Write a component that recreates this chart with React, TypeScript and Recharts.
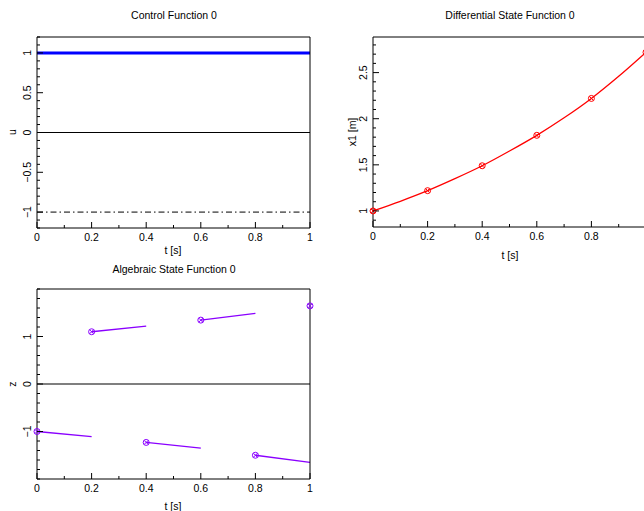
import React from 'react';
import { ComposedChart, Line, Scatter, XAxis, YAxis, ReferenceLine } from 'recharts';

const FONT = '"Liberation Sans", Arial, sans-serif';

// time grids
const tNodes = [0, 0.2, 0.4, 0.6, 0.8, 1.0];
const tFine = [0, 0.1, 0.2, 0.3, 0.4, 0.5, 0.6, 0.7, 0.8, 0.9, 1.0];

// control u
const uNodes = [1, 1, 1, 1, 1, 1];
const uBoundTimes = [0, 1];
const uLowerBound = [-1, -1];

// differential state x1
const x1Fine = [1.0, 1.105, 1.22, 1.35, 1.49, 1.65, 1.82, 2.01, 2.22, 2.46, 2.72];
const x1Nodes = [1.0, 1.22, 1.49, 1.82, 2.22, 2.72];

// algebraic state z, one piece per interval
const zStart = [-1.0, 1.1, -1.23, 1.345, -1.5];
const zEnd = [-1.11, 1.22, -1.35, 1.485, -1.65];
const zLast = 1.645;

// tick values
const tMajor = [0, 0.2, 0.4, 0.6, 0.8, 1];
const tMajorCut = [0, 0.2, 0.4, 0.6, 0.8]; // right panel is cut before t = 1
const uMajor = [-1, -0.5, 0, 0.5, 1];
const x1Major = [1, 1.5, 2, 2.5];
const zMajor = [-1, 0, 1];

const steps = (from: number, to: number, step: number) => {
  const out: number[] = [];
  const n = Math.round((to - from) / step);
  for (let i = 0; i <= n; i++) out.push(Math.round((from + i * step) * 1000) / 1000);
  return out;
};
const tAll = steps(0, 1, 0.1);
const uAll = steps(-1.2, 1.2, 0.1);
const x1All = steps(0.9, 2.8, 0.1);
const zAll = steps(-2, 2, 0.2);

// chart rows built from the arrays
const uLine = tNodes.map((t, i) => ({ t, u: uNodes[i] }));
const uBound = uBoundTimes.map((t, i) => ({ t, u: uLowerBound[i] }));
const x1Line = tFine.map((t, i) => ({ t, x1: x1Fine[i] }));
const x1Dots = tNodes.map((t, i) => ({ t, x1: x1Nodes[i] }));
const zPieces = zStart.map((z, i) => [
  { t: tNodes[i], z },
  { t: tNodes[i + 1], z: zEnd[i] },
]);
const zDots = [...zStart, zLast].map((z, i) => ({ t: tNodes[i], z }));

type Side = 'bottom' | 'top' | 'left' | 'right';
const fmt = (v: number) => String(v).replace('-', '\u2212');
const has = (arr: number[], v: number) => arr.some((m) => Math.abs(m - v) < 1e-6);

// gnuplot style ticks: inward, major longer than minor
const tickFor = (side: Side, major: number[], labels: number[], gap = 9) => (props: any) => {
  const { x, y, payload } = props;
  const v = payload.value;
  const len = has(major, v) ? 6 : 3;
  const l = { x1: x, y1: y, x2: x, y2: y };
  if (side === 'bottom') l.y2 = y - len;
  if (side === 'top') l.y2 = y + len;
  if (side === 'left') l.x2 = x + len;
  if (side === 'right') l.x2 = x - len;
  const show = has(labels, v);
  return (
    <g>
      <line {...l} stroke="#000" strokeWidth={1} />
      {show && side === 'bottom' && (
        <text x={x} y={y + gap} textAnchor="middle" dominantBaseline="central" fontSize={10.5} fontFamily={FONT} fill="#000">
          {fmt(v)}
        </text>
      )}
      {show && side === 'left' && (
        <text
          x={x - gap}
          y={y}
          transform={`rotate(-90 ${x - gap} ${y})`}
          textAnchor="middle"
          dominantBaseline="central"
          fontSize={10.5}
          fontFamily={FONT}
          fill="#000"
        >
          {fmt(v)}
        </text>
      )}
    </g>
  );
};

const axisLine = { stroke: '#000', strokeWidth: 1 };

const CrossCircle = (props: any) => {
  const { cx, cy, color } = props;
  return (
    <g stroke={color} strokeWidth={1} fill="none">
      <circle cx={cx} cy={cy} r={3} />
      <line x1={cx - 2} y1={cy - 2} x2={cx + 2} y2={cy + 2} />
      <line x1={cx - 2} y1={cy + 2} x2={cx + 2} y2={cy - 2} />
    </g>
  );
};

// four framing axes; top and right are 1px so they still get drawn
const frameAxes = (
  xLabels: number[],
  yDomain: [number, number],
  yTicks: number[],
  yMajor: number[],
  xh: number,
  yw: number
) => [
  <XAxis key="xb" type="number" dataKey="t" domain={[0, 1]} ticks={tAll} interval={0} height={xh} tickSize={0} tickMargin={0} tickLine={false} axisLine={axisLine} tick={tickFor('bottom', tMajor, xLabels)} />,
  <XAxis key="xt" xAxisId="top" orientation="top" type="number" dataKey="t" domain={[0, 1]} ticks={tAll} interval={0} height={1} tickSize={0} tickMargin={0} tickLine={false} axisLine={axisLine} tick={tickFor('top', tMajor, [])} />,
  <YAxis key="yl" type="number" domain={yDomain} ticks={yTicks} interval={0} width={yw} tickSize={0} tickMargin={0} tickLine={false} axisLine={axisLine} tick={tickFor('left', yMajor, yMajor, 10)} />,
  <YAxis key="yr" yAxisId="right" orientation="right" type="number" domain={yDomain} ticks={yTicks} interval={0} width={1} tickSize={0} tickMargin={0} tickLine={false} axisLine={axisLine} tick={tickFor('right', yMajor, [])} />,
];

const Caption = ({ x, y, text, rotate }: { x: number; y: number; text: string; rotate?: boolean }) => (
  <text
    x={x}
    y={y}
    transform={rotate ? `rotate(-90 ${x} ${y})` : undefined}
    textAnchor="middle"
    dominantBaseline="central"
    fontSize={10.5}
    fontFamily={FONT}
    fill="#000"
  >
    {text}
  </text>
);

export default function App() {
  return (
    <div style={{ position: 'absolute', left: 0, top: 0, width: 644, height: 511, overflow: 'hidden', background: '#fff' }}>
      {/* Control Function 0 */}
      <div style={{ position: 'absolute', left: 0, top: 0 }}>
        <ComposedChart width={320} height={260} margin={{ top: 36, right: 9, bottom: 0, left: 0 }}>
          {frameAxes(tMajor, [-1.2, 1.2], uAll, uMajor, 32, 37)}
          <ReferenceLine y={0} stroke="#000" strokeWidth={1.2} />
          <Line data={uBound} dataKey="u" type="linear" stroke="#000" strokeWidth={1} strokeDasharray="6 3 1.5 3" dot={false} isAnimationActive={false} />
          <Line data={uLine} dataKey="u" type="linear" stroke="#0000ff" strokeWidth={3} dot={false} isAnimationActive={false} />
        </ComposedChart>
      </div>

      {/* Differential State Function 0 */}
      <div style={{ position: 'absolute', left: 320, top: 0 }}>
        <ComposedChart width={336} height={260} margin={{ top: 36, right: 9, bottom: 0, left: 0 }}>
          {frameAxes(tMajorCut, [0.826, 2.886], x1All, x1Major, 33, 53)}
          <Line data={x1Line} dataKey="x1" type="monotone" stroke="#ff0000" strokeWidth={1.3} dot={false} isAnimationActive={false} />
          <Scatter data={x1Dots} dataKey="x1" isAnimationActive={false} shape={(p: any) => <CrossCircle cx={p.cx} cy={p.cy} color="#ff0000" />} />
        </ComposedChart>
      </div>

      {/* Algebraic State Function 0 */}
      <div style={{ position: 'absolute', left: 0, top: 255 }}>
        <ComposedChart width={320} height={256} margin={{ top: 33, right: 9, bottom: 0, left: 0 }}>
          {frameAxes(tMajor, [-2, 2], zAll, zMajor, 32, 37)}
          <ReferenceLine y={0} stroke="#000" strokeWidth={1.2} />
          {zPieces.map((piece, i) => (
            <Line key={i} data={piece} dataKey="z" type="linear" stroke="#8a00ff" strokeWidth={1.3} dot={false} isAnimationActive={false} />
          ))}
          <Scatter data={zDots} dataKey="z" isAnimationActive={false} shape={(p: any) => <CrossCircle cx={p.cx} cy={p.cy} color="#8a00ff" />} />
        </ComposedChart>
      </div>

      <svg width={644} height={511} style={{ position: 'absolute', left: 0, top: 0, pointerEvents: 'none' }}>
        <Caption x={174} y={15} text="Control Function 0" />
        <Caption x={173} y={250} text="t [s]" />
        <Caption x={12} y={132} text="u" rotate />
        <Caption x={510} y={15} text="Differential State Function 0" />
        <Caption x={510} y={255} text="t [s]" />
        <Caption x={352} y={132} text="x1 [m]" rotate />
        <Caption x={174} y={269} text="Algebraic State Function 0" />
        <Caption x={173} y={506} text="t [s]" />
        <Caption x={12} y={384} text="z" rotate />
      </svg>
    </div>
  );
}
